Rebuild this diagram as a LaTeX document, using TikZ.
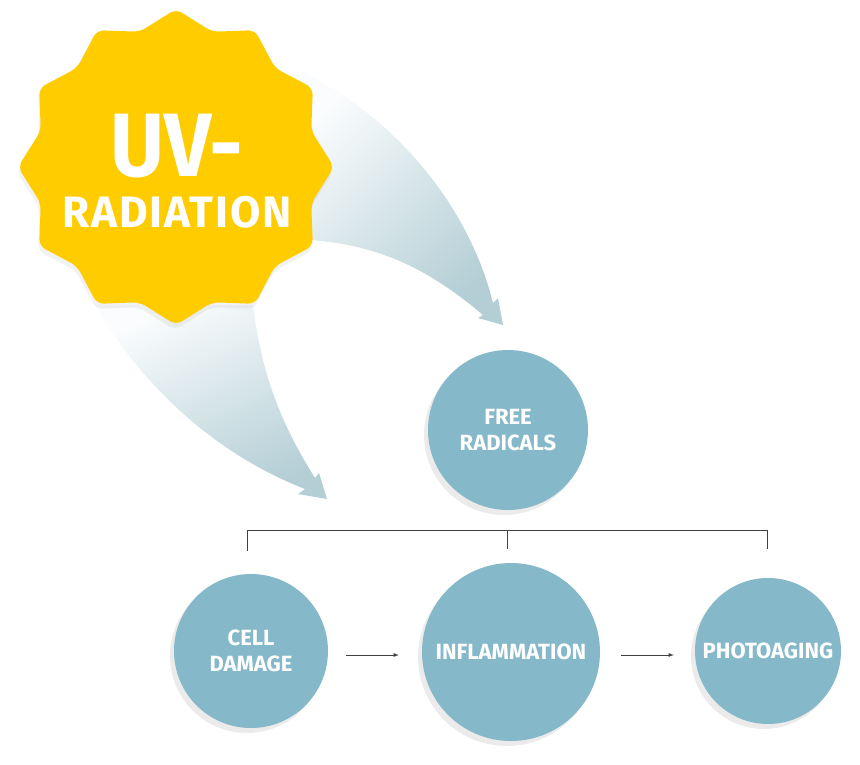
\documentclass[tikz,border=0pt]{standalone}
\usepackage{fontspec}
\setmainfont{Fira Sans}
\usetikzlibrary{shadows}
\definecolor{uvyellow}{HTML}{FFCC00}
\definecolor{bubblecol}{HTML}{85B9C9}
\definecolor{rayhi}{HTML}{FAFCFD}
\definecolor{raymid}{HTML}{E3EDF0}
\definecolor{raylo}{HTML}{B3CED5}
\tikzset{
    bubble/.style={circle,fill=bubblecol,text=white,align=center,inner sep=0pt,
        font=\fontsize{22}{26}\selectfont\bfseries,
        drop shadow={shadow xshift=-4pt,shadow yshift=-5pt,opacity=.16}},
    ray/.style={top color=rayhi,middle color=raymid,bottom color=raylo},
    link/.style={draw=black!75,line width=.8pt}
}
\begin{document}
\begin{tikzpicture}[x=1pt,y=-1pt]
    \useasboundingbox(0,0)rectangle(860,764);
    % the two rays
    \shade[ray,shading angle=45](300,70)..controls(400,120)and(470,210)..(493,303)--(498,298)--(503,325)--(478,318)--(483,315)..controls(430,270)and(380,245)..(310,240)--cycle;
    \shade[ray,shading angle=25](95,305)..controls(150,400)and(230,460)..(305,489)--(298,494)--(327,499)--(319,473)--(315,478)..controls(285,430)and(262,380)..(253,305)--cycle;
    % badge
    \begin{scope}[shift={(176,167)}]
        \fill[uvyellow,rounded corners=7pt,drop shadow={shadow xshift=-1pt,shadow yshift=-5pt,opacity=.1}](90:158)
            \foreach \i in {1,...,11}{--({75+30*\i}:140)--({90+30*\i}:158)}--(75:140)--cycle;
    \end{scope}
    \node[text=white,font=\fontsize{90}{90}\selectfont\bfseries,xscale=.92](uv)at(177,146){UV-};
    \node[text=white,font=\fontsize{44}{44}\selectfont\bfseries\addfontfeature{LetterSpace=4}](rad)at(177,212){RADIATION};
    % circles
    \node[bubble,minimum size=160pt](free)at(508,430){FREE\\RADICALS};
    \node[bubble,minimum size=154pt](cell)at(251,651){CELL\\DAMAGE};
    \node[bubble,minimum size=178pt](infl)at(511,652){INFLAMMATION};
    \node[bubble,minimum size=146pt](photo)at(768,651){PHOTOAGING};
    % bracket
    \coordinate(bl)at(247,551);
    \coordinate(bm)at(507,549);
    \coordinate(br)at(767,549);
    \draw[link](bl)|-(br|-0,530)--(br);
    \draw[link](bm|-0,530)--(bm);
    \draw[link,-latex,shorten <=18pt,shorten >=23pt]([yshift=-4pt]cell.east)--([yshift=-3pt]infl.west);
    \draw[link,-latex,shorten <=21pt,shorten >=21pt]([yshift=-3pt]infl.east)--([yshift=-4pt]photo.west);
\end{tikzpicture}
\end{document}
